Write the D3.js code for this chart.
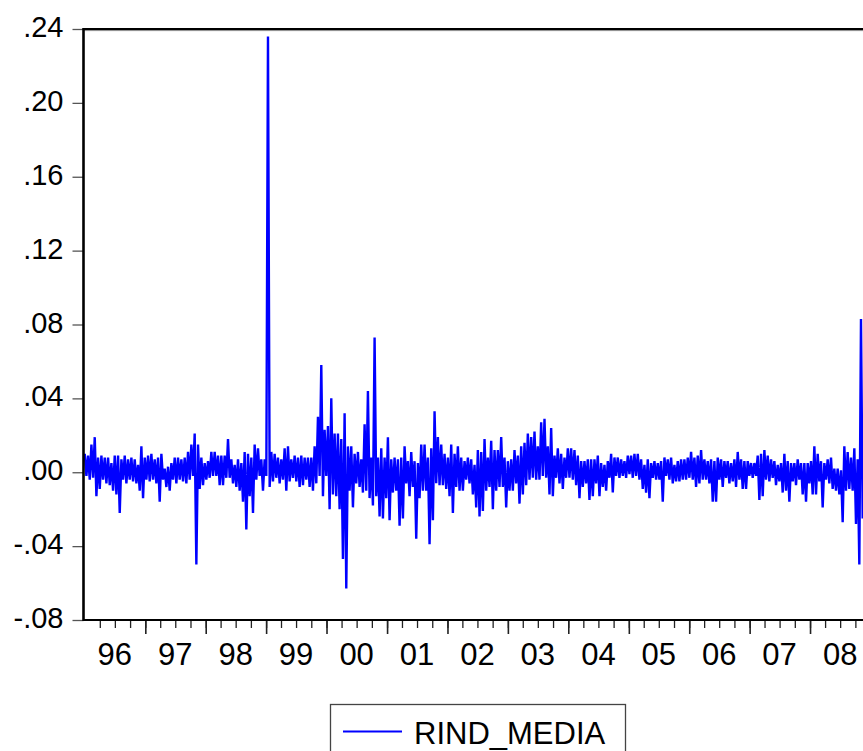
<!DOCTYPE html>
<html>
<head>
<meta charset="utf-8">
<script src="https://cdn.jsdelivr.net/npm/d3@7"></script>
<style>
  body { margin: 0; background: #fff; }
  svg { display: block; font-family: "Liberation Sans", Arial, sans-serif; }
</style>
</head>
<body>
<svg id="chart" width="863" height="751"></svg>
<script>
// RIND_MEDIA as (high, low) pairs per ~20 day slice, in thousandths
var upper = [
  10,9,15,19,8,9,8,8,5,9, 9,7,9,7,8,7,4,14,8,9, 10,7,8,10,2,3,5,8,8,7, 8,11,15,21,15,8,5,6,11,
  11,9,9,9,18,7,4,7,5,11, 10,8,15,13,7,7,236,11,10,8, 7,13,14,7,9,8,9,8,8,8, 14,30,58,23,25,40,21,21,18,
  32,14,14,10,11,7,26,44,8,73, 8,13,8,19,7,8,7,8,14,6, 11,6,5,15,15,8,13,33,19,15, 10,8,15,10,14,8,6,8,7,
  4,12,11,18,8,17,12,12,19,8, 6,7,12,9,14,16,21,19,22,14, 27,29,14,24,9,13,10,8,13,13, 12,9,6,6,7,7,7,9,5,
  4,6,10,8,8,7,6,9,9,10, 10,7,4,7,5,6,5,6,8,7, 8,4,6,7,7,8,11,8,9,12, 7,6,7,6,8,7,6,6,5,
  7,11,7,6,6,5,5,9,10,12, 9,7,6,4,5,10,6,5,5,7, 5,5,5,6,14,10,6,5,7,8, 2,2,1,14,11,8,13,7,83
];
var lower = [
  -2,-4,-3,-13,-9,-4,-6,-7,-10,-12, -22,-4,-6,-4,-5,-6,-10,-14,-4,-5, -4,-6,-16,-4,-8,-10,-4,-6,-4,-5, -6,-4,-2,-50,-9,-7,-4,-3,-2,
  -2,-7,-7,-3,-3,-6,-8,-10,-16,-31, -13,-22,-4,-2,-10,-2,-8,-5,-3,-6, -4,-10,-5,-3,-5,-8,-7,-4,-8,-10, -6,-2,-13,-2,-20,-12,-13,-20,-47,
  -63,-10,-19,-6,-8,-11,-10,-14,-18,-13, -24,-25,-14,-26,-11,-10,-29,-25,-6,-13, -8,-36,-14,-10,-10,-39,-26,-6,-7,-7, -9,-13,-22,-8,-10,-10,-4,-6,-12,
  -19,-24,-21,-10,-8,-20,-10,-8,-8,-19, -10,-10,-6,-17,-12,-7,-4,-3,-4,-4, -2,-3,-12,-13,-3,-6,-9,-3,-3,-4, -7,-14,-8,-6,-15,-13,-6,-13,-8,
  -10,-3,-11,-2,-3,-2,-3,-1,-3,-2, -4,-9,-11,-14,-3,-4,-4,-16,-2,-4, -6,-5,-5,-4,-4,-3,-4,-8,-6,-4, -4,-6,-16,-16,-4,-8,-3,-6,-5,
  -8,-4,-9,-9,-2,-3,-2,-15,-13,-4, -5,-3,-7,-5,-11,-10,-16,-5,-7,-4, -12,-16,-6,-12,-12,-5,-19,-4,-6,-9, -10,-12,-27,-10,-9,-10,-28,-50,-25
];
var firstObs = new Date(1996, 0, 1),
    lastObs = new Date(2008, 10, 14);

var yTicks = [-0.08, -0.04, 0, 0.04, 0.08, 0.12, 0.16, 0.20, 0.24];
var yTickLabels = ["-.08", "-.04", ".00", ".04", ".08", ".12", ".16", ".20", ".24"];
var years = [1996, 1997, 1998, 1999, 2000, 2001, 2002, 2003, 2004, 2005, 2006, 2007, 2008];
var yearLabels = ["96", "97", "98", "99", "00", "01", "02", "03", "04", "05", "06", "07", "08"];
var seriesName = "RIND_MEDIA";

var svg = d3.select("svg#chart"),
    plotLeft = 83.5, plotTop = 29, plotBottom = 620, plotRight = 872;

var x = d3.scaleTime()
    .domain([new Date(1996, 0, 1), new Date(2009, 0, 1)])
    .range([84.75, 84.75 + 13 * 60.45]);
var y = d3.scaleLinear()
    .domain([-0.08, 0.24])
    .range([plotBottom, plotTop]);

// interleave the highs and lows into one sequence of observations
var series = [];
upper.forEach(function(u, i) {
  series.push(u / 1000);
  series.push(lower[i] / 1000);
});
var obsTime = d3.scaleLinear()
    .domain([0, series.length - 1])
    .range([+firstObs, +lastObs]);
var data = series.map(function(v, i) { return {date: new Date(obsTime(i)), value: v}; });

// frame
svg.append("line")
    .attr("x1", plotLeft).attr("x2", plotRight)
    .attr("y1", plotTop + 1.6).attr("y2", plotTop + 1.6)
    .attr("stroke", "#888").attr("stroke-width", 1);
svg.append("line")
    .attr("x1", plotLeft).attr("x2", plotRight)
    .attr("y1", plotTop).attr("y2", plotTop)
    .attr("stroke", "#000").attr("stroke-width", 2.2);

// y axis
var yAxis = svg.append("g")
    .attr("transform", "translate(" + plotLeft + ",0)")
    .call(d3.axisLeft(y)
      .tickValues(yTicks)
      .tickSize(11)
      .tickPadding(9)
      .tickFormat(function(d, i) { return yTickLabels[i]; }));
yAxis.select(".domain").remove();
yAxis.selectAll(".tick line").attr("stroke", "#555").attr("stroke-width", 1.3);
yAxis.selectAll(".tick text")
    .attr("font-size", 29)
    .attr("font-family", "Liberation Sans, Arial, sans-serif")
    .attr("fill", "#000")
    .attr("dy", "0.26em");

// x axis: quarterly minor ticks, yearly major ticks
var minor = svg.append("g")
    .attr("transform", "translate(0," + plotBottom + ")")
    .call(d3.axisBottom(x)
      .tickValues(d3.timeMonth.every(3).range(new Date(1996, 1, 1), new Date(2009, 0, 1)))
      .tickSize(8)
      .tickFormat(""));
minor.select(".domain").remove();
minor.selectAll(".tick line").attr("stroke", "#222").attr("stroke-width", 1.3);

var major = svg.append("g")
    .attr("transform", "translate(0," + plotBottom + ")")
    .call(d3.axisBottom(x)
      .tickValues(d3.timeYear.range(new Date(1997, 0, 1), new Date(2010, 0, 1)))
      .tickSize(14)
      .tickFormat(""));
major.select(".domain").remove();
major.selectAll(".tick line").attr("stroke", "#222").attr("stroke-width", 1.6);

svg.append("g")
  .selectAll("text")
  .data(years)
  .enter().append("text")
    .attr("x", function(d) { return x(new Date(d, 6, 1)); })
    .attr("y", 665)
    .attr("text-anchor", "middle")
    .attr("font-size", 31)
    .text(function(d, i) { return yearLabels[i]; });

// the series
var line = d3.line()
    .x(function(d) { return x(d.date); })
    .y(function(d) { return y(d.value); });

svg.append("path")
    .datum(data)
    .attr("fill", "none")
    .attr("stroke", "#0000ff")
    .attr("stroke-width", 2.4)
    .attr("stroke-linejoin", "bevel")
    .attr("d", line);

// axis lines on top
svg.append("line")
    .attr("x1", plotLeft).attr("x2", plotLeft)
    .attr("y1", plotTop - 1).attr("y2", plotBottom + 1)
    .attr("stroke", "#000").attr("stroke-width", 2.6);
svg.append("line")
    .attr("x1", plotLeft).attr("x2", plotRight)
    .attr("y1", plotBottom).attr("y2", plotBottom)
    .attr("stroke", "#000").attr("stroke-width", 2.2);

// legend
var legend = svg.append("g");
legend.append("rect")
    .attr("x", 330.5).attr("y", 704.5)
    .attr("width", 295).attr("height", 70)
    .attr("fill", "#fff")
    .attr("stroke", "#444").attr("stroke-width", 1.3);
legend.append("line")
    .attr("x1", 343).attr("x2", 402)
    .attr("y1", 731.5).attr("y2", 731.5)
    .attr("stroke", "#0000ff").attr("stroke-width", 2);
legend.append("text")
    .attr("x", 414)
    .attr("y", 743.5)
    .attr("font-size", 31)
    .text(seriesName);
</script>
</body>
</html>
